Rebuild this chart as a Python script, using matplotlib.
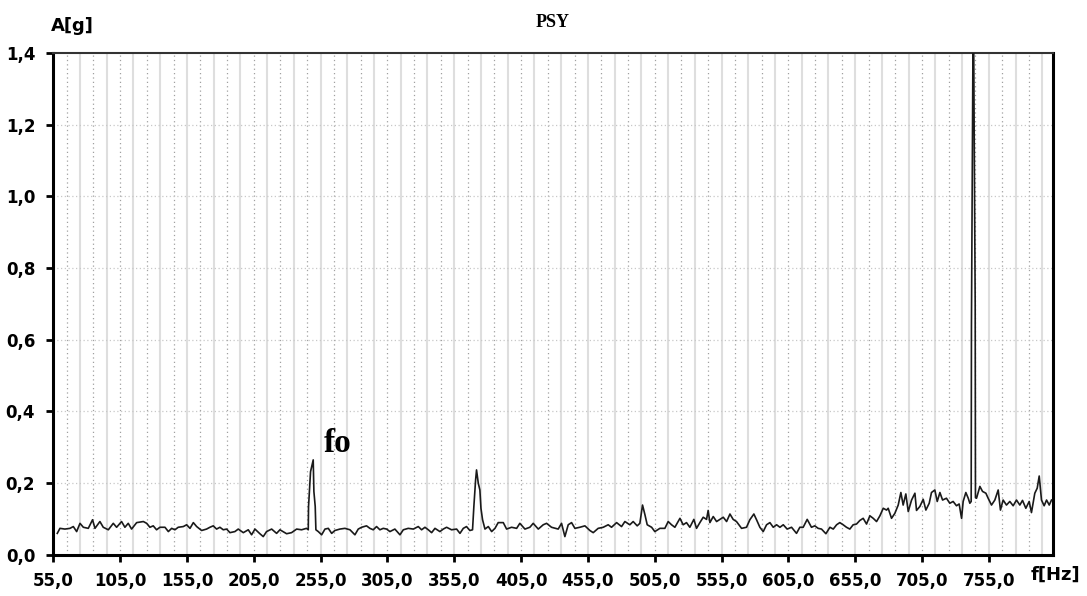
import matplotlib
matplotlib.use("Agg")
import matplotlib.pyplot as plt
from matplotlib.ticker import FixedLocator, FuncFormatter
import numpy as np

# spectrum, f[Hz] vs A[g]
freq = [58.0, 60.0, 63.7, 67.5, 70.0, 72.5, 75.0, 77.5, 81.2, 84.4, 86.2, 89.9, 92.4, 96.2,
        99.9, 102.4, 106.1, 108.6, 111.1, 113.6, 117.4, 122.4, 124.9, 127.3, 129.8, 132.3,
        134.8, 138.6, 141.1, 143.6, 146.0, 148.5, 152.3, 154.8, 157.3, 159.8, 162.3, 166.0,
        169.7, 172.2, 174.7, 177.2, 179.7, 182.2, 184.7, 187.2, 190.9, 193.4, 197.2, 200.9,
        203.4, 205.9, 209.6, 212.1, 214.6, 218.4, 222.1, 224.6, 229.6, 233.3, 237.1, 240.8,
        244.5,
        # fo peak
        245.8, 246.0, 247.5, 249.5, 250.0, 251.0, 251.5,
        253.3, 255.8, 258.3, 260.8, 263.3, 265.7, 269.5, 273.2, 277.0, 280.7, 283.2, 285.7,
        289.4, 291.9, 294.4, 296.9, 299.4, 301.9, 304.4, 306.9, 310.6, 314.4, 316.9, 320.6,
        324.4, 328.1, 330.6, 333.1, 335.6, 338.1, 340.6, 344.3, 346.8, 349.3, 353.0, 356.8,
        359.3, 361.8, 364.2, 366.7, 368.7,
        369.7, 371.0, 371.7, 373.0, 374.2, 375.0, 376.2,
        378.0, 380.5, 383.0, 385.5, 387.9, 391.7, 394.2, 397.9, 401.7, 404.1, 407.9, 411.6,
        414.1, 417.9, 421.6, 424.1, 427.8, 432.8, 435.3, 437.8, 440.3, 442.8, 445.3, 449.0,
        452.8, 456.5, 459.0, 462.7, 466.5, 470.2, 472.7, 476.5, 480.2, 482.7, 486.4, 488.9,
        491.9, 493.9, 495.9, 497.7, 499.4, 502.7, 505.1, 508.9, 512.6, 515.1, 517.6, 520.1,
        523.9, 526.3, 528.8, 531.3, 534.3, 536.3, 538.8, 541.3, 543.8, 545.0, 546.3, 548.8,
        551.3, 553.8, 556.3, 558.8, 561.3, 563.7, 566.2, 570.0, 573.7, 576.2, 579.2, 581.2,
        583.7, 586.2, 588.7, 591.2, 593.7, 596.2, 598.7, 601.2, 604.1, 607.4, 611.1, 613.6,
        616.1, 619.1, 622.3, 624.8, 627.3, 629.8, 633.1, 636.1, 638.6, 641.1, 643.5, 646.0,
        648.5, 651.0, 653.5, 656.0, 658.5, 661.0, 663.5, 666.0, 668.5, 671.0, 673.5, 676.0,
        678.5, 679.7, 682.2, 684.7, 687.2, 689.2, 690.9, 692.9, 694.7, 697.2, 699.7, 700.9,
        703.4, 705.9, 707.9, 710.4, 712.1, 714.6, 716.4, 718.4, 720.4, 723.3, 725.8, 728.3,
        730.8, 732.8, 734.6, 735.8, 737.8, 739.6, 740.8, 741.8,
        # big peak
        742.0, 743.4, 744.8, 745.0,
        745.8, 748.3, 750.3, 752.8, 754.5, 757.0, 759.5, 762.0, 763.7, 765.7, 768.2, 770.7,
        773.2, 775.7, 778.2, 780.2, 782.7, 785.2, 786.9, 789.4, 791.2, 792.7, 794.4, 796.4,
        798.2, 800.2, 801.9]

amp = [0.060, 0.074, 0.072, 0.074, 0.079, 0.065, 0.088, 0.077, 0.074, 0.098, 0.074, 0.093, 0.077, 0.070,
       0.088, 0.077, 0.093, 0.077, 0.088, 0.072, 0.090, 0.093, 0.088, 0.077, 0.081, 0.070,
       0.077, 0.077, 0.065, 0.074, 0.070, 0.077, 0.079, 0.084, 0.074, 0.090, 0.079, 0.068,
       0.072, 0.077, 0.081, 0.072, 0.077, 0.070, 0.072, 0.062, 0.065, 0.072, 0.062, 0.070,
       0.056, 0.072, 0.059, 0.051, 0.065, 0.072, 0.060, 0.070, 0.059, 0.062, 0.072, 0.070,
       0.074,
       0.070, 0.135, 0.232, 0.265, 0.177, 0.135, 0.070,
       0.065, 0.056, 0.072, 0.074, 0.060, 0.068, 0.072, 0.074, 0.070, 0.056, 0.072, 0.077,
       0.081, 0.074, 0.070, 0.079, 0.070, 0.074, 0.072, 0.065, 0.072, 0.056, 0.070, 0.074,
       0.072, 0.079, 0.070, 0.077, 0.070, 0.062, 0.074, 0.065, 0.072, 0.077, 0.070, 0.072,
       0.060, 0.074, 0.079, 0.068, 0.070,
       0.135, 0.209, 0.237, 0.200, 0.181, 0.130, 0.098,
       0.072, 0.079, 0.065, 0.074, 0.090, 0.090, 0.072, 0.077, 0.074, 0.088, 0.072, 0.077,
       0.088, 0.072, 0.084, 0.088, 0.077, 0.072, 0.088, 0.051, 0.084, 0.090, 0.074, 0.077,
       0.081, 0.068, 0.062, 0.074, 0.077, 0.084, 0.077, 0.090, 0.079, 0.093, 0.084, 0.093,
       0.081, 0.088, 0.139, 0.112, 0.084, 0.077, 0.065, 0.074, 0.074, 0.093, 0.084, 0.077,
       0.102, 0.084, 0.090, 0.077, 0.099, 0.074, 0.090, 0.105, 0.099, 0.124, 0.090, 0.107,
       0.093, 0.099, 0.105, 0.093, 0.114, 0.099, 0.093, 0.074, 0.077, 0.098, 0.114, 0.098,
       0.077, 0.065, 0.084, 0.090, 0.077, 0.084, 0.077, 0.084, 0.072, 0.077, 0.060, 0.077,
       0.077, 0.099, 0.077, 0.081, 0.074, 0.072, 0.059, 0.077, 0.072, 0.084, 0.090, 0.084,
       0.077, 0.072, 0.084, 0.086, 0.096, 0.102, 0.086, 0.109, 0.102, 0.093, 0.109, 0.130,
       0.125, 0.130, 0.102, 0.116, 0.139, 0.174, 0.139, 0.170, 0.121, 0.153, 0.172, 0.124,
       0.135, 0.155, 0.125, 0.144, 0.174, 0.181, 0.149, 0.174, 0.153, 0.158, 0.144, 0.149,
       0.137, 0.142, 0.102, 0.149, 0.174, 0.158, 0.144, 0.149,
       0.64, 1.60, 0.70, 0.16,
       0.158, 0.191, 0.177, 0.172, 0.158, 0.139, 0.153, 0.181, 0.125, 0.153, 0.139, 0.149,
       0.137, 0.153, 0.139, 0.152, 0.130, 0.149, 0.118, 0.172, 0.186, 0.220, 0.153, 0.137,
       0.153, 0.139, 0.153]

xticks = [55, 105, 155, 205, 255, 305, 355, 405, 455, 505, 555, 605, 655, 705, 755]
yticks = [0.0, 0.2, 0.4, 0.6, 0.8, 1.0, 1.2, 1.4]

fig = plt.figure(figsize=(10.87, 5.96), dpi=100)
ax = fig.add_axes([0.049, 0.069, 0.9197, 0.842])

# background vertical grid, light solid and dotted lines every 10 Hz
gl = np.arange(65, 800, 10)
for k, g in enumerate(gl):
    if k % 2 == 0:
        ax.axvline(g, color='#a0a0a0', lw=0.9, ls=(0, (1, 2.5)), zorder=1)
    else:
        ax.axvline(g, color='#dedede', lw=1.5, zorder=1)
for yv in yticks[1:-1]:
    ax.axhline(yv, color='#c8c8c8', lw=0.9, ls=(0, (1, 2)), zorder=1)

ax.plot(freq, amp, color='#1a1a1a', lw=1.2, zorder=3)

ax.set_xlim(55, 803)
ax.set_ylim(0, 1.4)
ax.xaxis.set_major_locator(FixedLocator(xticks))
ax.yaxis.set_major_locator(FixedLocator(yticks))
ax.xaxis.set_major_formatter(FuncFormatter(lambda v, p: ('%.1f' % v).replace('.', ',')))
ax.yaxis.set_major_formatter(FuncFormatter(lambda v, p: ('%.1f' % v).replace('.', ',')))

for side in ['left', 'bottom', 'right']:
    ax.spines[side].set_linewidth(2.2)
    ax.spines[side].set_color('black')
ax.spines['top'].set_linewidth(1.5)
ax.spines['top'].set_color('#333333')
ax.tick_params(axis='both', direction='out', length=5, width=2, color='black',
               labelsize=12)
ax.tick_params(axis='y', pad=8)
ax.tick_params(axis='x', pad=7)
for lab in ax.get_xticklabels() + ax.get_yticklabels():
    lab.set_fontweight('bold')

fig.text(0.047, 0.956, 'A[g]', fontsize=13, fontweight='bold', ha='left', va='center')
fig.text(0.508, 0.963, 'PSY', fontsize=13, fontweight='bold', family='Liberation Serif',
         ha='center', va='center')
fig.text(0.9936, 0.035, 'f[Hz]', fontsize=13, fontweight='bold', ha='right', va='center')
ax.text(268, 0.288, 'fo', fontsize=24, fontweight='bold', family='Liberation Serif',
        ha='center', va='baseline')

fig.savefig('out.png', dpi=100)
